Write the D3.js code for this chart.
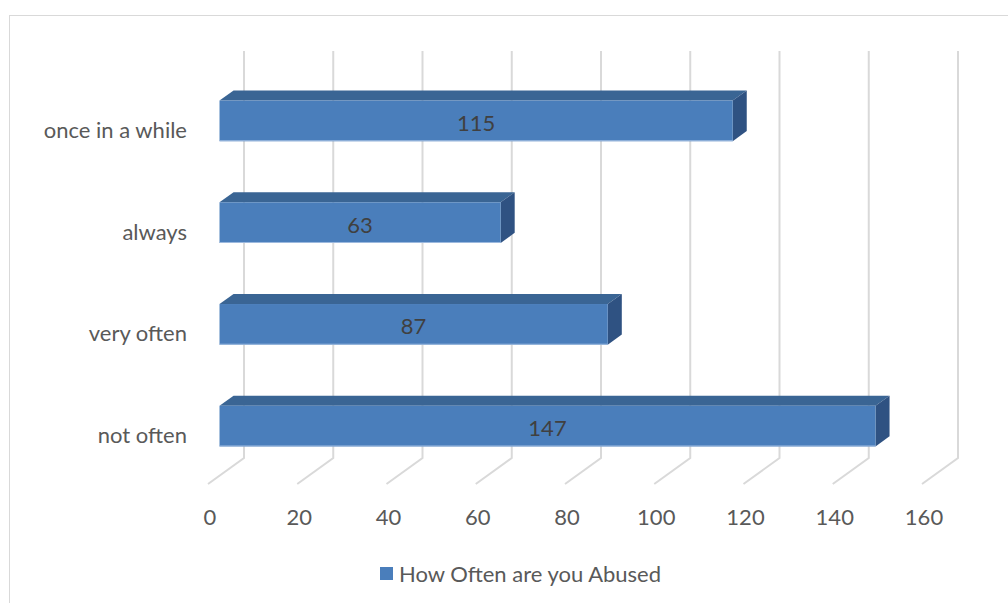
<!DOCTYPE html>
<html><head><meta charset="utf-8">
<script src="https://cdn.jsdelivr.net/npm/d3@7"></script>
<style>body{margin:0;background:#fff}svg{display:block}</style>
</head><body>
<script>
const categories = ["once in a while", "always", "very often", "not often"];
const values = [115, 63, 87, 147];
const ticks = [0, 20, 40, 60, 80, 100, 120, 140, 160];
const seriesName = "How Often are you Abused";

const W = 1008, H = 603;
const svg = d3.select("body").append("svg").attr("width", W).attr("height", H);
const font = "Lato, 'Open Sans', sans-serif";
const fs = 22;
const textColor = "#595959";

// chart border
svg.append("rect").attr("x", 9.5).attr("y", 15.5).attr("width", 1200).attr("height", 800)
  .attr("fill", "#fff").attr("stroke", "#d9d9d9").attr("stroke-width", 1);

// depth vector (full depth of floor)
const DX = 36, DY = -26;
const x = d3.scaleLinear().domain([0, 160]).range([208, 208 + 160 * 4.4625]);
const y = d3.scaleBand().domain(categories).range([70, 477]).paddingInner(0.6).paddingOuter(0.3);
const floorY = 484;
const topY = 51;

// gridlines: back wall vertical + floor slants
const grid = svg.append("g").attr("stroke", "#d9d9d9").attr("stroke-width", 2).attr("fill", "none");
ticks.forEach(t => {
  const bx = x(t) + DX, by = floorY + DY;
  grid.append("path").attr("d", `M${bx},${topY}L${bx},${by}L${x(t)},${floorY}`);
});

// bars
const f0 = 0.32, f1 = 0.71;
const cFront = "#4a7ebb", cTop = "#3a6594", cSide = "#2f5282";
const bars = svg.append("g");
categories.forEach((c, i) => {
  const v = values[i];
  const x0 = x(0) + DX * f0, x1 = x(v) + DX * f0;
  const yt = y(c), yb = y(c) + y.bandwidth();
  const ddx = DX * (f1 - f0), ddy = DY * (f1 - f0);
  bars.append("path").attr("fill", cTop)
    .attr("d", `M${x0},${yt}L${x0 + ddx},${yt + ddy}L${x1 + ddx},${yt + ddy}L${x1},${yt}Z`);
  bars.append("path").attr("fill", cSide)
    .attr("d", `M${x1},${yt}L${x1 + ddx},${yt + ddy}L${x1 + ddx},${yb + ddy}L${x1},${yb}Z`);
  bars.append("rect").attr("x", x0).attr("y", yt).attr("width", x1 - x0).attr("height", yb - yt)
    .attr("fill", cFront);
  bars.append("line").attr("x1", x0).attr("x2", x1).attr("y1", yb - 0.5).attr("y2", yb - 0.5)
    .attr("stroke", "#9fbbe0").attr("stroke-width", 1);
  bars.append("text").attr("x", (x0 + x1) / 2).attr("y", (yt + yb) / 2 + 1.5)
    .attr("text-anchor", "middle").attr("dominant-baseline", "central")
    .attr("font-family", font).attr("font-size", fs).attr("fill", "#404040").text(v);
  svg.append("text").attr("x", 187).attr("y", (yt + yb) / 2 + 8.5)
    .attr("text-anchor", "end").attr("dominant-baseline", "central")
    .attr("font-family", font).attr("font-size", fs).attr("fill", textColor).text(c);
});

// x tick labels
const axisG = svg.append("g");
ticks.forEach(t => {
  axisG.append("text").attr("x", x(t) + 2).attr("y", 516)
    .attr("text-anchor", "middle").attr("dominant-baseline", "central")
    .attr("font-family", font).attr("font-size", fs).attr("fill", textColor).text(t);
});

// legend
const lg = svg.append("g");
lg.append("rect").attr("x", 380).attr("y", 567).attr("width", 13).attr("height", 13).attr("fill", cFront);
lg.append("text").attr("x", 399).attr("y", 573).attr("dominant-baseline", "central")
  .attr("font-family", font).attr("font-size", fs).attr("fill", textColor).text(seriesName);
</script>
</body></html>
